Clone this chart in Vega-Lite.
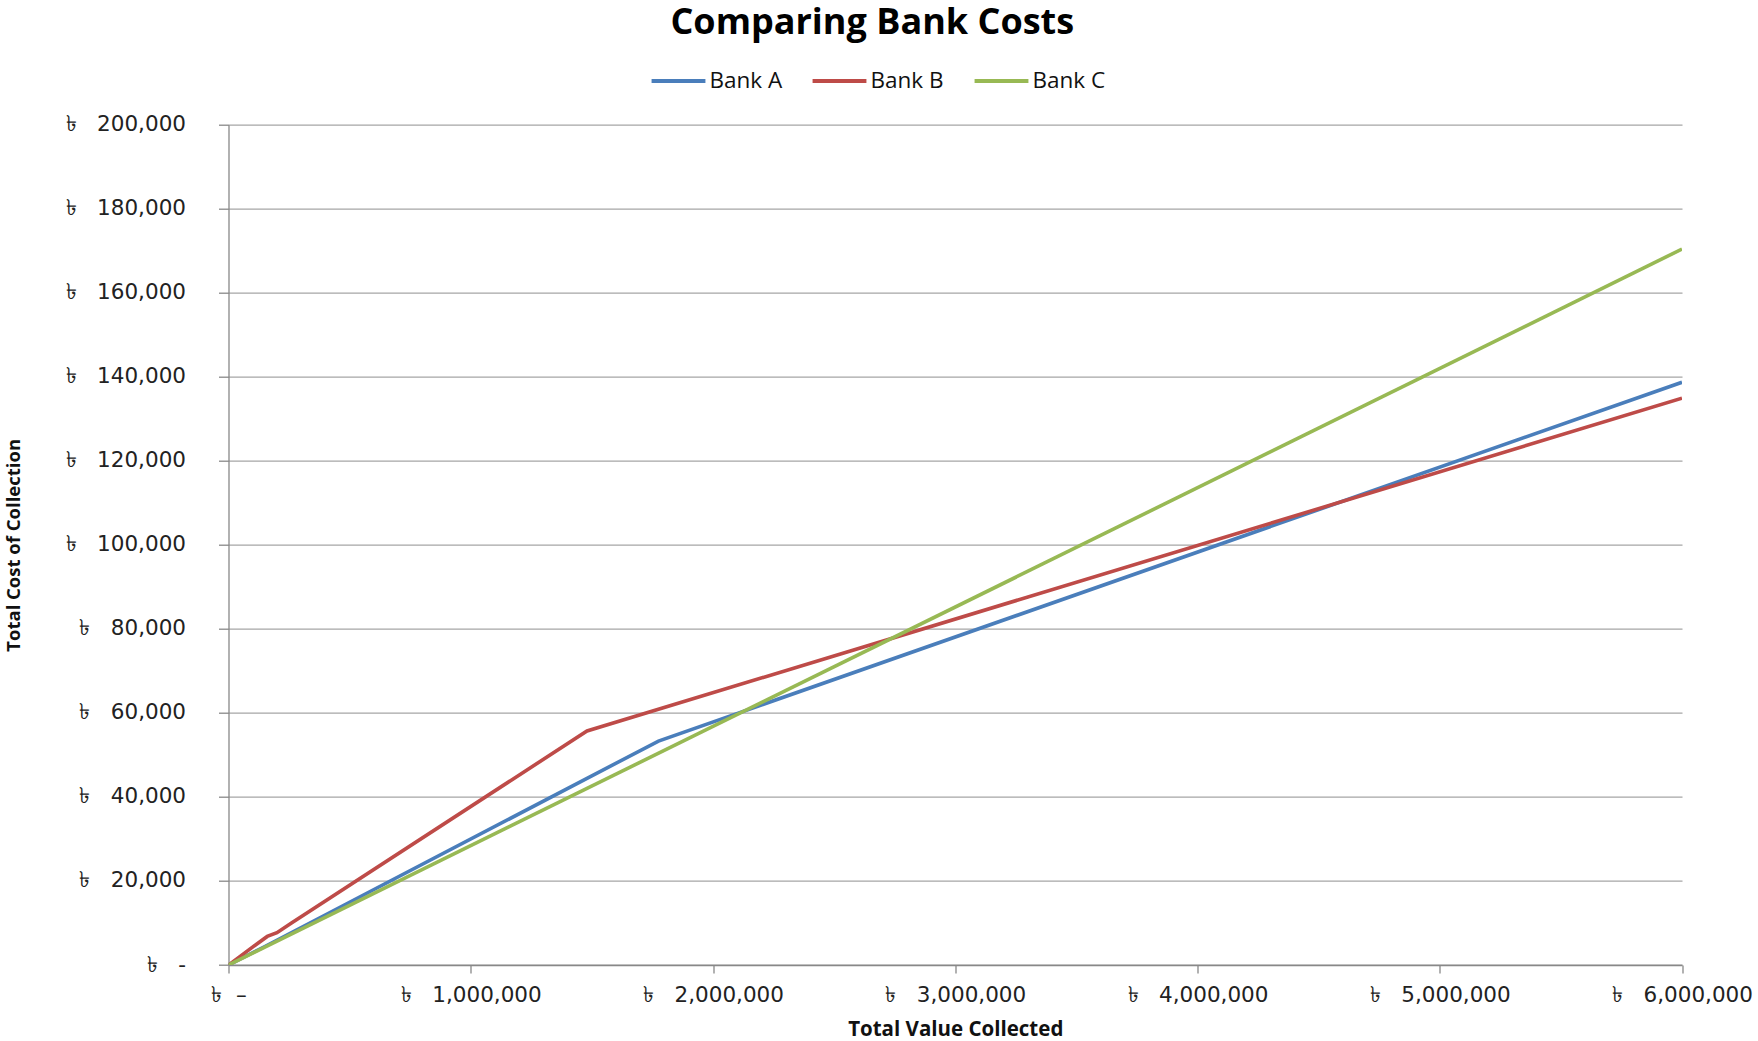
{
  "$schema": "https://vega.github.io/schema/vega-lite/v6.json",
  "autosize": {"type": "none"},
  "padding": {"left": 228.5, "top": 124.7, "right": 75, "bottom": 76},
  "width": 1453.5,
  "height": 840.3,
  "background": "white",
  "title": {
    "text": "Comparing Bank Costs",
    "font": "Open Sans",
    "fontWeight": "bold",
    "fontSize": 36,
    "color": "#000000",
    "anchor": "middle",
    "dx": -83,
    "dy": -6
  },
  "data": {
    "values": [
      {"bank": "Bank A", "value": 0, "cost": 0},
      {"bank": "Bank A", "value": 150000, "cost": 4400},
      {"bank": "Bank A", "value": 1775000, "cost": 53300},
      {"bank": "Bank A", "value": 6000000, "cost": 138700},
      {"bank": "Bank B", "value": 0, "cost": 0},
      {"bank": "Bank B", "value": 110000, "cost": 4700},
      {"bank": "Bank B", "value": 160000, "cost": 6800},
      {"bank": "Bank B", "value": 200000, "cost": 7700},
      {"bank": "Bank B", "value": 260000, "cost": 10000},
      {"bank": "Bank B", "value": 1480000, "cost": 55700},
      {"bank": "Bank B", "value": 6000000, "cost": 134900},
      {"bank": "Bank C", "value": 0, "cost": 0},
      {"bank": "Bank C", "value": 6000000, "cost": 170400}
    ]
  },
  "mark": {"type": "line", "strokeWidth": 3.6, "clip": true},
  "encoding": {
    "x": {
      "field": "value",
      "type": "quantitative",
      "scale": {"domain": [0, 6000000], "nice": false, "zero": true},
      "axis": {
        "title": "Total Value Collected",
        "titleFont": "Open Sans",
        "titleFontWeight": "bold",
        "titleFontSize": 20.5,
        "titleColor": "#111111",
        "titlePadding": 14,
        "values": [0, 1000000, 2000000, 3000000, 4000000, 5000000, 6000000],
        "labelExpr": "datum.value == 0 ? '৳\u00a0\u00a0–' : '৳\u00a0\u00a0\u00a0' + format(datum.value, ',')",
        "labelFont": "DejaVu Sans",
        "labelFontSize": 21.5,
        "labelColor": "#222222",
        "labelPadding": 11,
        "labelOverlap": false,
        "labelFlush": false,
        "grid": false,
        "domainColor": "#888888",
        "domainWidth": 1.3,
        "tickColor": "#888888",
        "tickWidth": 1.3,
        "tickSize": 8
      }
    },
    "y": {
      "field": "cost",
      "type": "quantitative",
      "scale": {"domain": [0, 200000], "nice": false},
      "axis": {
        "title": "Total Cost of Collection",
        "titleFont": "Open Sans",
        "titleFontWeight": "bold",
        "titleFontSize": 18.5,
        "titleColor": "#111111",
        "titleX": -209,
        "titleBaseline": "alphabetic",
        "values": [0, 20000, 40000, 60000, 80000, 100000, 120000, 140000, 160000, 180000, 200000],
        "labelExpr": "datum.value == 0 ? '৳\u00a0\u00a0\u00a0-' : '৳\u00a0\u00a0\u00a0' + format(datum.value, ',')",
        "labelFont": "DejaVu Sans",
        "labelFontSize": 21.5,
        "labelColor": "#222222",
        "labelPadding": 33,
        "labelOverlap": false,
        "grid": true,
        "gridColor": "#a6a6a6",
        "gridWidth": 1.3,
        "domainColor": "#888888",
        "domainWidth": 1.3,
        "tickColor": "#888888",
        "tickWidth": 1.3,
        "tickSize": 10
      }
    },
    "color": {
      "field": "bank",
      "type": "nominal",
      "scale": {
        "domain": ["Bank A", "Bank B", "Bank C"],
        "range": ["#4A7EBB", "#BE4B48", "#98B954"]
      },
      "legend": {
        "title": null,
        "orient": "none",
        "direction": "horizontal",
        "legendX": 421,
        "legendY": -73,
        "symbolType": "stroke",
        "symbolSize": 2900,
        "symbolStrokeWidth": 4,
        "labelFont": "Open Sans",
        "labelFontSize": 22.5,
        "labelColor": "#111111",
        "labelOffset": 2,
        "columnPadding": 22,
        "padding": 0
      }
    }
  },
  "config": {
    "view": {"stroke": null}
  }
}
